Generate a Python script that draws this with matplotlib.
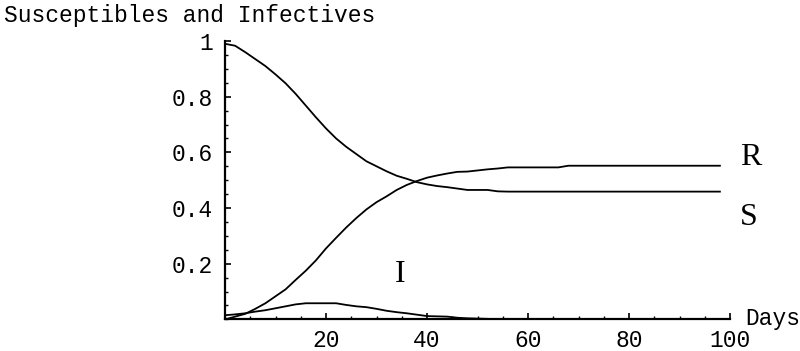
import matplotlib
matplotlib.use("Agg")
import matplotlib.pyplot as plt
from matplotlib.ticker import MultipleLocator, FixedLocator, FixedFormatter

# Epidemic model output: fractions of the population over time
days = [0, 2, 4, 6, 8, 10, 12, 14, 16, 18, 20, 22, 24, 26, 28, 30, 32, 34,
        36, 38, 40, 42, 44, 46, 48, 50, 52, 54, 56, 60, 64, 66, 68, 72, 80,
        90, 98]

susceptible = [0.990, 0.983, 0.960, 0.935, 0.910, 0.880, 0.848, 0.810,
               0.768, 0.726, 0.686, 0.650, 0.620, 0.594, 0.568, 0.550,
               0.532, 0.516, 0.505, 0.493, 0.485, 0.479, 0.475, 0.470,
               0.465, 0.465, 0.465, 0.460, 0.459, 0.459, 0.459, 0.459,
               0.459, 0.459, 0.459, 0.459, 0.459]

infective = [0.015, 0.018, 0.022, 0.028, 0.033, 0.040, 0.047, 0.054,
             0.058, 0.058, 0.058, 0.058, 0.052, 0.047, 0.044, 0.038,
             0.031, 0.026, 0.022, 0.017, 0.012, 0.011, 0.010, 0.006,
             0.004, 0.003, 0.002, 0.000, 0.000, 0.000, 0.000, 0.000,
             0.000, 0.000, 0.000, 0.000, 0.000]

removed = [0.000, 0.010, 0.020, 0.038, 0.058, 0.083, 0.108, 0.142,
           0.175, 0.212, 0.255, 0.293, 0.330, 0.364, 0.395, 0.421,
           0.442, 0.465, 0.483, 0.497, 0.509, 0.517, 0.524, 0.530,
           0.531, 0.535, 0.539, 0.542, 0.546, 0.546, 0.546, 0.546,
           0.552, 0.552, 0.552, 0.552, 0.552]

x_ticks = [20, 40, 60, 80, 100]
x_tick_labels = ["20", "40", "60", "80", "100"]
y_ticks = [0.2, 0.4, 0.6, 0.8, 1.0]
y_tick_labels = ["0.2", "0.4", "0.6", "0.8", "1"]

mono = "Liberation Mono"
serif = "Liberation Serif"

fig = plt.figure(figsize=(8.0, 3.51), dpi=100)
ax = fig.add_axes([0.28125, 0.090, 0.63125, 0.7932])

for series in (susceptible, infective, removed):
    ax.plot(days, series, color="black", lw=1.3, solid_joinstyle="round")

ax.set_xlim(0, 100)
ax.set_ylim(0, 1)

for side in ("top", "right"):
    ax.spines[side].set_visible(False)
for side in ("left", "bottom"):
    ax.spines[side].set_linewidth(1.6)

ax.xaxis.set_major_locator(FixedLocator(x_ticks))
ax.xaxis.set_major_formatter(FixedFormatter(x_tick_labels))
ax.xaxis.set_minor_locator(MultipleLocator(5))
ax.yaxis.set_major_locator(FixedLocator(y_ticks))
ax.yaxis.set_major_formatter(FixedFormatter(y_tick_labels))
ax.yaxis.set_minor_locator(MultipleLocator(0.05))

ax.tick_params(which="both", direction="in", color="black")
ax.tick_params(which="major", length=4.5, width=1.2)
ax.tick_params(which="minor", length=2.2, width=1.0)
ax.tick_params(axis="x", which="major", pad=7)
ax.tick_params(axis="y", which="major", pad=8.5)
for lab in ax.get_xticklabels() + ax.get_yticklabels():
    lab.set_fontfamily(mono)
    lab.set_fontsize(16.5)

# Curve labels
ax.text(102, 0.553, "R", family=serif, fontsize=23, ha="left",
        va="baseline", clip_on=False)
ax.text(102, 0.339, "S", family=serif, fontsize=23, ha="left",
        va="baseline", clip_on=False)
ax.text(34.7, 0.134, "I", family=serif, fontsize=23, ha="center",
        va="baseline")

# Axis captions
fig.text(4 / 800, 1 - 22 / 351, "Susceptibles and Infectives",
         family=mono, fontsize=16.5, ha="left", va="baseline")
fig.text(745 / 800, 1 - 325 / 351, "Days", family=mono, fontsize=16.5,
         ha="left", va="baseline")

fig.savefig("out.png", dpi=100)
